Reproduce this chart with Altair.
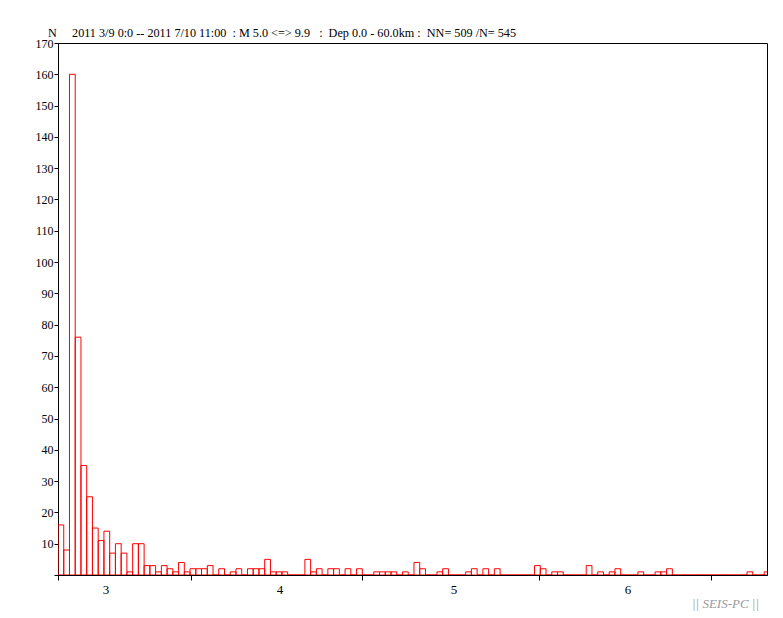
import altair as alt
import pandas as pd

# ---- data ----
BIN_START = 2.724
BIN_WIDTH = 0.033
X_MAX = 6.799

counts = [
    16, 8, 160, 76, 35, 25, 15, 11, 14, 7,      # 0-9
    10, 7, 1, 10, 10, 3, 3, 1, 3, 2,            # 10-19
    1, 4, 1, 2, 2, 2, 3, 0, 2, 0,               # 20-29
    1, 2, 0, 2, 2, 2, 5, 1, 1, 1,               # 30-39
    0, 0, 0, 5, 1, 2, 0, 2, 2, 0,               # 40-49
    2, 0, 2, 0, 0, 1, 1, 1, 1, 0,               # 50-59
    1, 0, 4, 2, 0, 0, 1, 2, 0, 0,               # 60-69
    0, 1, 2, 0, 2, 0, 2, 0, 0, 0,               # 70-79
    0, 0, 0, 3, 2, 0, 1, 1, 0, 0,               # 80-89
    0, 0, 3, 0, 1, 0, 1, 2, 0, 0,               # 90-99
    0, 1, 0, 0, 1, 1, 2, 0, 0, 0,               # 100-109
    0, 0, 0, 0, 0, 0, 0, 0, 0, 0,               # 110-119
    1, 0, 0, 1,                                 # 120-123
]

x_tick_values = [2.724, 3.49, 4.47, 5.49, 6.48]
x_label_values = [3, 4, 5, 6]
x_label_texts = ["3", "4", "5", "6"]
y_tick_values = list(range(0, 171, 10))

header = ("2011 3/9 0:0 -- 2011 7/10 11:00 \u00a0: M 5.0 <=> 9.9 \u00a0\u00a0: "
          "\u00a0Dep 0.0 - 60.0km : \u00a0NN= 509 /N= 545")
head_text = "N \u00a0\u00a0\u00a0\u00a0" + header

FONT = "Liberation Serif"

df = pd.DataFrame({
    "m0": [BIN_START + i * BIN_WIDTH for i in range(len(counts))],
    "n": counts,
})
df["m1"] = df["m0"] + BIN_WIDTH

lab_df = pd.DataFrame({"m": x_label_values, "t": x_label_texts})
head_df = pd.DataFrame({"t": [head_text]})

W, H = 709, 532

xscale = alt.Scale(domain=[BIN_START, X_MAX], nice=False, zero=False)
yscale = alt.Scale(domain=[0, 170], nice=False, zero=True)

bars = alt.Chart(df).mark_rect(
    fillOpacity=0, fill="white", stroke="#ff0000", strokeWidth=1, clip=True
).encode(
    x=alt.X("m0:Q", scale=xscale,
            axis=alt.Axis(values=x_tick_values, labels=False, tickSize=5,
                          tickColor="black", domainColor="black", grid=False,
                          title="|| SEIS-PC ||", titleX=667, titleY=28,
                          titleBaseline="middle", titleAlign="center",
                          titleFont=FONT, titleFontSize=13,
                          titleFontStyle="italic", titleFontWeight="normal",
                          titleColor="#9a9a9a")),
    x2="m1:Q",
    y=alt.Y("n:Q", scale=yscale,
            axis=alt.Axis(values=y_tick_values,
                          labelExpr="datum.value == 0 ? '' : datum.label",
                          tickSize=4, labelPadding=1, tickColor="black",
                          domainColor="black", grid=False,
                          labelFont=FONT, labelFontSize=12, labelColor="black",
                          title=None)),
    y2=alt.datum(0),
)

xlabels = alt.Chart(lab_df).mark_text(
    font=FONT, fontSize=13, color="black", baseline="middle", align="center"
).encode(
    x=alt.X("m:Q", scale=xscale),
    y=alt.value(H + 15),
    text="t:N",
)

head = alt.Chart(head_df).mark_text(
    font=FONT, fontSize=12.2, color="black", baseline="alphabetic", align="left"
).encode(
    x=alt.value(-10),
    y=alt.value(-6),
    text="t:N",
)

chart = alt.layer(bars, xlabels, head).properties(
    width=W, height=H,
    autosize=alt.AutoSizeParams(type="none"),
    padding={"left": 50, "top": 35, "right": 8, "bottom": 42},
    background="white",
).configure_view(stroke="black", strokeWidth=1)

chart.save("out.html", embed_options={"renderer": "svg", "actions": False})
